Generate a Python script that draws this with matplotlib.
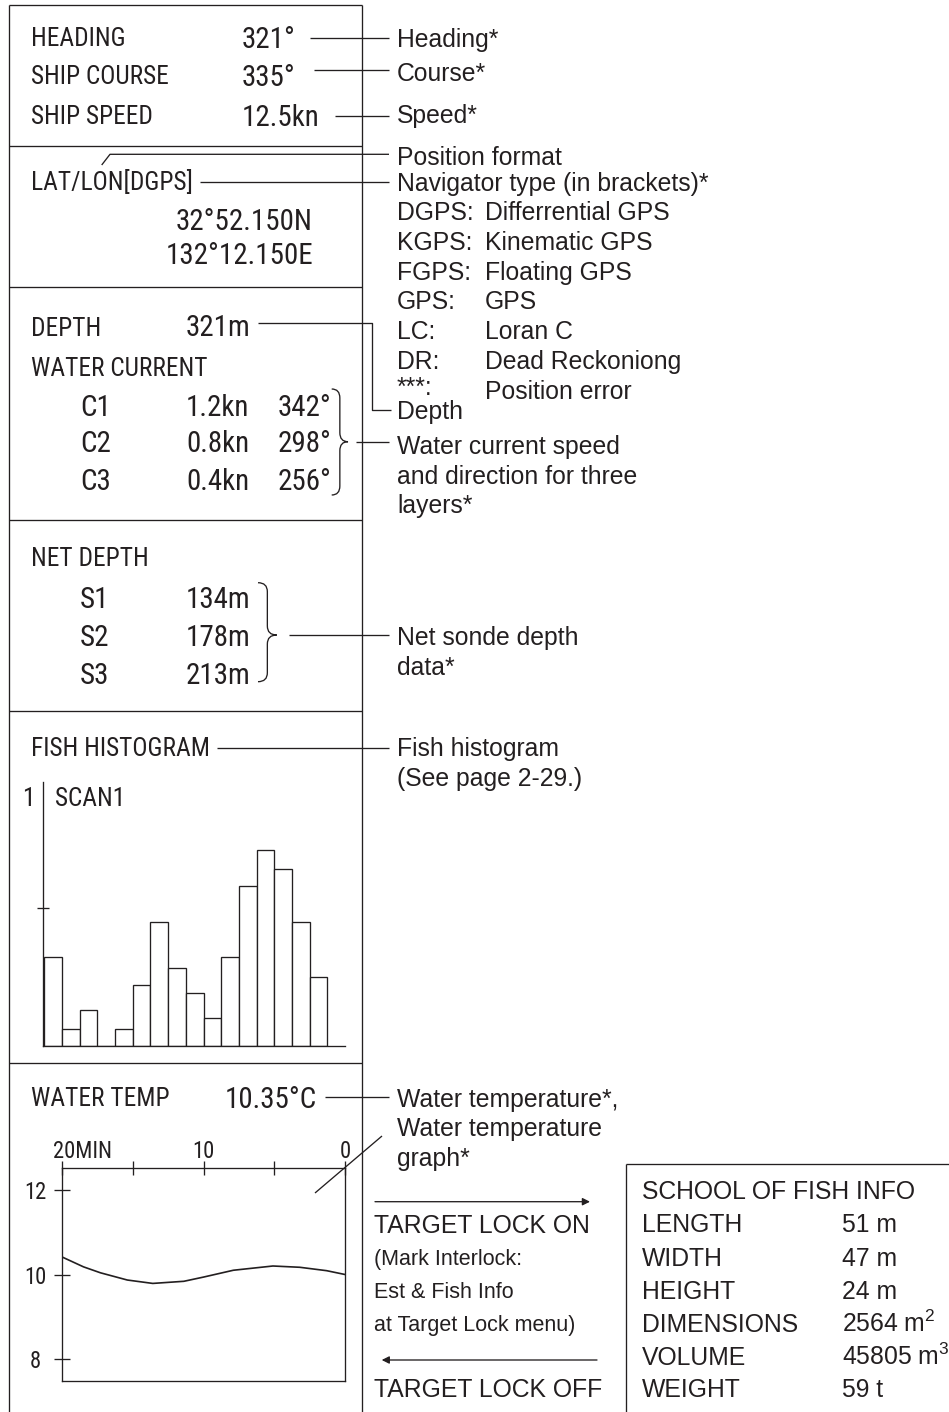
import matplotlib
matplotlib.use("Agg")
import matplotlib.pyplot as plt
from matplotlib.path import Path
from matplotlib.patches import PathPatch
from matplotlib.transforms import ScaledTranslation
from matplotlib import font_manager as fm
from matplotlib.font_manager import FontProperties

# ---------------- data ----------------
nav_labels = ["HEADING", "SHIP COURSE", "SHIP SPEED"]
nav_values = ["321°", "335°", "12.5kn"]
nav_notes = ["Heading*", "Course*", "Speed*"]

position_format = "LAT/LON[DGPS]"
position_values = ["32°52.150N", "132°12.150E"]
nav_type_codes = ["DGPS:", "KGPS:", "FGPS:", "GPS:", "LC:", "DR:", "***:"]
nav_type_names = ["Differrential GPS", "Kinematic GPS", "Floating GPS", "GPS",
                  "Loran C", "Dead Reckoniong", "Position error"]

depth_value = "321m"
current_layers = ["C1", "C2", "C3"]
current_speed = ["1.2kn", "0.8kn", "0.4kn"]
current_dir = ["342°", "298°", "256°"]

sonde_names = ["S1", "S2", "S3"]
sonde_depth = ["134m", "178m", "213m"]

hist_values = [0.32, 0.06, 0.13, 0.0, 0.06, 0.22, 0.45, 0.28, 0.19, 0.10,
               0.32, 0.58, 0.71, 0.64, 0.45, 0.25]

water_temp_value = "10.35°C"
temp_minutes = [20, 18.5, 17.3, 15.4, 13.6, 11.4, 10, 7.9, 5.1, 3.2, 1.3, 0]
temp_values = [10.41, 10.18, 10.04, 9.87, 9.79, 9.84, 9.94, 10.10, 10.20, 10.17, 10.09, 10.00]
temp_xticks = [20, 15, 10, 5, 0]
temp_xticklabels = ["20MIN", "", "10", "", "0"]
temp_yticks = [8, 10, 12]

fish_info_labels = ["LENGTH", "WIDTH", "HEIGHT", "DIMENSIONS", "VOLUME", "WEIGHT"]
fish_info_values = ["51 m", "47 m", "24 m", "2564 m$\\mathregular{^2}$",
                    "45805 m$\\mathregular{^3}$", "59 t"]

# ---------------- setup ----------------
plt.rcParams["mathtext.fontset"] = "custom"
plt.rcParams["mathtext.rm"] = "Liberation Sans"
plt.rcParams["mathtext.it"] = "Liberation Sans:italic"
plt.rcParams["mathtext.bf"] = "Liberation Sans:bold"

W, H, DPI = 949, 1412, 100
INK = "#231f20"
LW = 0.95
REG = ["Liberation Sans", "DejaVu Sans"]
RSIZE = 17.8


def find_narrow():
    prefs = ["Liberation Sans Narrow", "Arial Narrow", "Nimbus Sans Narrow",
             "Roboto Condensed", "Open Sans Condensed", "Noto Sans Condensed"]
    fl = fm.fontManager.ttflist

    def ok(f):
        w = f.weight
        return f.style == "normal" and (w == 400 or w in ("normal", "regular", "book"))
    for name in prefs:
        for f in fl:
            if f.name == name and ok(f):
                return f.fname
    for f in fl:
        if f.name in ("Liberation Sans", "Roboto", "Noto Sans", "Open Sans", "Lato", "Inter") \
                and str(f.stretch) in ("condensed", "semi-condensed") and ok(f):
            return f.fname
    return None


NPATH = find_narrow()


def nprop(size):
    if NPATH:
        return FontProperties(fname=NPATH, size=size)
    return FontProperties(family=REG, size=size)


fig = plt.figure(figsize=(W / DPI, H / DPI), dpi=DPI)
fig.patch.set_facecolor("white")
ax = fig.add_axes([0, 0, 1, 1])
ax.set_xlim(0, W)
ax.set_ylim(H, 0)
ax.axis("off")
renderer = fig.canvas.get_renderer()


def text_w(s, prop):
    w, h, d = renderer.get_text_width_height_descent(s, prop, ismath=False)
    return w


def cap_of(prop):
    w, h, d = renderer.get_text_width_height_descent("H", prop, ismath=False)
    return h - d


def fit(s, target_w):
    return 10.0 * target_w / text_w(s, nprop(10.0))


LBL = fit("SHIP COURSE", 138)          # panel labels
VAL = fit("12.5kn", 73) * 1.06         # panel values
GRA = fit("20MIN", 59)                 # graph tick labels


def T(x, yc, s, size=RSIZE, narrow=False, ha="left"):
    prop = nprop(size) if narrow else FontProperties(family=REG, size=size)
    cap = cap_of(prop)
    return ax.text(x, yc + cap / 2, s, fontproperties=prop,
                   ha=ha, va="baseline", color=INK)


def xend(t):
    return t.get_window_extent(renderer).x1


def L(xs, ys):
    ax.plot(xs, ys, color=INK, lw=LW, solid_capstyle="butt")


def leader(t, x0, y, x1, gap=7):
    L([max(x0, xend(t) + gap), x1], [y, y])


def brace(xl, xr, yt, yb, ym, r=9):
    xm = xl + 0.5 * (xr - xl)
    verts = [(xl, yt), (xm, yt), (xm, yt + r), (xm, ym - r), (xm, ym), (xr, ym),
             (xm, ym), (xm, ym + r), (xm, yb - r), (xm, yb), (xl, yb)]
    codes = [Path.MOVETO, Path.CURVE3, Path.CURVE3, Path.LINETO, Path.CURVE3, Path.CURVE3,
             Path.CURVE3, Path.CURVE3, Path.LINETO, Path.CURVE3, Path.CURVE3]
    ax.add_patch(PathPatch(Path(verts, codes), facecolor="none", edgecolor=INK, lw=LW))


def px_axes(l, t, r, b):
    return fig.add_axes([l / W, 1 - b / H, (r - l) / W, (b - t) / H])


# ---------------- panel frame ----------------
PL, PR, PT = 9, 362.5, 5
L([PL, PL], [PT, H + 2])
L([PR, PR], [PT, H + 2])
for yy in [PT, 146, 287, 519.5, 711, 1063]:
    L([PL, PR], [yy, yy])

RX = 397    # right-side annotation column
LEND = 389  # leader lines end

# ---- section 1 ----
rows1 = [37, 75, 115]
lead1 = [(310, 37.5), (314, 70), (335, 115.7)]
for lab, val, y, (lx, ly) in zip(nav_labels, nav_values, rows1, lead1):
    T(31, y, lab, LBL, narrow=True)
    tv = T(242, y, val, VAL, narrow=True)
    leader(tv, lx, ly, LEND, gap=14)
for note, y in zip(nav_notes, [38, 72, 114]):
    T(RX, y, note)

# ---- section 2 ----
tp = T(31, 180, position_format, LBL, narrow=True)
T(313, 220, position_values[0], VAL, narrow=True, ha="right")
T(313, 253, position_values[1], VAL, narrow=True, ha="right")
L([LEND, 110, 101.7], [154.3, 154.3, 165])
leader(tp, 197, 181.7, LEND)
T(RX, 156, "Position format")
T(RX, 182, "Navigator type (in brackets)*")
code_rows = [211, 241, 271, 300, 330, 360, 386]
for code, name, y in zip(nav_type_codes, nav_type_names, code_rows):
    T(RX, y, code)
    T(485, 390 if code == "***:" else y, name)

# ---- section 3 ----
T(31, 327, "DEPTH", LBL, narrow=True)
td = T(186, 326, depth_value, VAL, narrow=True)
T(31, 366, "WATER CURRENT", LBL, narrow=True)
crow = [405, 442, 480]
for c, sp, d, y in zip(current_layers, current_speed, current_dir, crow):
    T(80, y, c, VAL, narrow=True)
    T(186, y, sp, VAL, narrow=True)
    T(278, y, d, VAL, narrow=True)
x0d = max(258, xend(td) + 7)
L([x0d, 372, 372, 391], [323, 323, 410, 410])
T(RX, 410, "Depth")
brace(331.7, 348, 389, 495, 441.7)
L([356, LEND], [441.7, 441.7])
T(RX, 445, "Water current speed")
T(RX, 475, "and direction for three")
T(RX, 504, "layers*")

# ---- section 4 ----
T(31, 556, "NET DEPTH", LBL, narrow=True)
srow = [597, 636, 674]
for s, d, y in zip(sonde_names, sonde_depth, srow):
    T(80, y, s, VAL, narrow=True)
    T(186, y, d, VAL, narrow=True)
brace(258, 276.7, 582.7, 681.7, 635)
L([289, LEND], [635, 635])
T(RX, 636, "Net sonde depth")
T(RX, 666, "data*")

# ---- section 5: fish histogram ----
tf = T(31, 747, "FISH HISTOGRAM", LBL, narrow=True)
leader(tf, 205, 748, LEND)
T(RX, 747, "Fish histogram")
T(RX, 777, "(See page 2-29.)")
T(28, 796, "1", LBL, narrow=True, ha="center")
T(55, 797, "SCAN1", LBL, narrow=True)

axh = px_axes(43.3, 781.7, 345, 1045.7)
axh.bar(range(len(hist_values)), hist_values, width=1, align="edge",
        facecolor="white", edgecolor=INK, lw=LW)
axh.set_xlim(-0.056, 16.99)
axh.set_ylim(0, 0.957)
for sp in ["top", "right"]:
    axh.spines[sp].set_visible(False)
for sp in ["left", "bottom"]:
    axh.spines[sp].set_color(INK)
    axh.spines[sp].set_linewidth(LW)
axh.set_xticks([])
axh.set_yticks([0.5])
axh.set_yticklabels([])
axh.tick_params(axis="y", direction="inout", length=8, width=LW, color=INK)
axh.patch.set_alpha(0)

# ---- section 6: water temp ----
T(31, 1097, "WATER TEMP", LBL, narrow=True)
tw = T(317, 1097, water_temp_value, VAL, narrow=True, ha="right")
leader(tw, 325, 1097, LEND)
T(RX, 1098, "Water temperature*,")
T(RX, 1127, "Water temperature")
T(RX, 1157, "graph*")
L([315, 382], [1193, 1136])

axt = px_axes(62.3, 1168.3, 345, 1380.7)
axt.plot(temp_minutes, temp_values, color=INK, lw=1.2)
axt.set_xlim(20, 0)
axt.set_ylim(7.5, 12.5)
axt.xaxis.tick_top()
axt.set_xticks(temp_xticks)
axt.set_xticklabels(temp_xticklabels, fontproperties=nprop(GRA), color=INK)
axt.set_yticks(temp_yticks)
axt.set_yticklabels([str(v) for v in temp_yticks], fontproperties=nprop(GRA), color=INK)
axt.tick_params(axis="x", direction="inout", length=9.5, width=LW, color=INK, pad=-1)
axt.tick_params(axis="y", direction="inout", length=11, width=LW, color=INK, pad=14)
for lab in axt.get_yticklabels():
    lab.set_ha("center")
first = axt.get_xticklabels()[0]
first.set_ha("left")
first.set_transform(first.get_transform() + ScaledTranslation(-9 / DPI, 0, fig.dpi_scale_trans))
for sp in axt.spines.values():
    sp.set_color(INK)
    sp.set_linewidth(LW)
axt.patch.set_alpha(0)

# ---- target lock area ----
ax.annotate("", xy=(590, 1201.7), xytext=(375, 1201.7),
            arrowprops=dict(arrowstyle="-|>", color=INK, lw=LW, mutation_scale=11,
                            shrinkA=0, shrinkB=0))
ax.annotate("", xy=(381.7, 1360), xytext=(597, 1360),
            arrowprops=dict(arrowstyle="-|>", color=INK, lw=LW, mutation_scale=11,
                            shrinkA=0, shrinkB=0))
T(374, 1224, "TARGET LOCK ON")
T(374, 1258, "(Mark Interlock:", 15.5)
T(374, 1290, "Est & Fish Info", 15.5)
T(374, 1323, "at Target Lock menu)", 15.5)
T(374, 1388, "TARGET LOCK OFF")

# ---- school of fish info box ----
L([626, 626], [1164, H + 2])
L([626, W + 2], [1164, 1164])
T(642, 1190, "SCHOOL OF FISH INFO")
for lab, val, y in zip(fish_info_labels, fish_info_values, [1223, 1257, 1290, 1323, 1356, 1388]):
    T(642, y, lab)
    T(842, y, val)

fig.savefig("out.png", dpi=DPI, facecolor="white")
